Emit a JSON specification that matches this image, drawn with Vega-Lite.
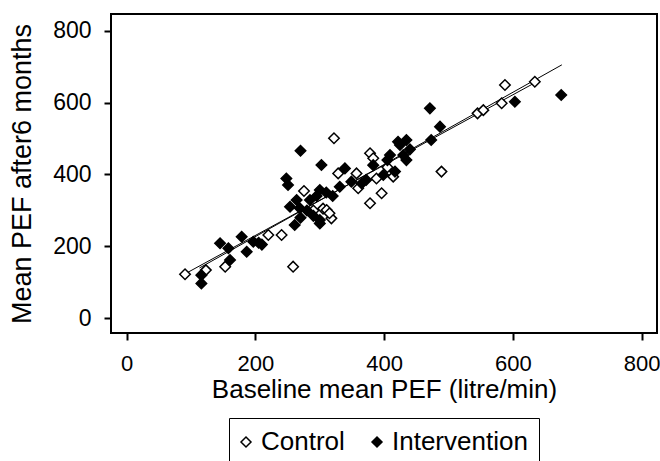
{
  "$schema": "https://vega.github.io/schema/vega-lite/v6.json",
  "width": 546,
  "height": 319,
  "autosize": {"type": "none"},
  "padding": {"left": 111, "top": 14, "right": 3, "bottom": 128},
  "background": "white",
  "config": {
    "view": {"stroke": "black", "strokeWidth": 2},
    "font": "Liberation Sans",
    "axis": {
      "domain": false,
      "grid": false,
      "tickColor": "black",
      "tickWidth": 2,
      "tickSize": 7,
      "labelFont": "Liberation Sans",
      "labelFontSize": 22,
      "labelColor": "black",
      "titleFont": "Liberation Sans",
      "titleFontSize": 26,
      "titleFontWeight": "normal",
      "titleColor": "black"
    }
  },
  "datasets": {
    "patients": [
      {"baseline": 90.6, "followup": 122.4, "group": "Control"},
      {"baseline": 123, "followup": 134, "group": "Control"},
      {"baseline": 153, "followup": 143.6, "group": "Control"},
      {"baseline": 220, "followup": 231.7, "group": "Control"},
      {"baseline": 240.6, "followup": 231.7, "group": "Control"},
      {"baseline": 258.5, "followup": 143.6, "group": "Control"},
      {"baseline": 275.4, "followup": 354, "group": "Control"},
      {"baseline": 290, "followup": 300, "group": "Control"},
      {"baseline": 305, "followup": 305, "group": "Control"},
      {"baseline": 310.6, "followup": 301, "group": "Control"},
      {"baseline": 318, "followup": 278, "group": "Control"},
      {"baseline": 315, "followup": 292, "group": "Control"},
      {"baseline": 322, "followup": 500.7, "group": "Control"},
      {"baseline": 328.5, "followup": 403, "group": "Control"},
      {"baseline": 357, "followup": 403, "group": "Control"},
      {"baseline": 359.6, "followup": 361.6, "group": "Control"},
      {"baseline": 378, "followup": 459, "group": "Control"},
      {"baseline": 383, "followup": 445, "group": "Control"},
      {"baseline": 388, "followup": 389, "group": "Control"},
      {"baseline": 396, "followup": 348, "group": "Control"},
      {"baseline": 378, "followup": 320, "group": "Control"},
      {"baseline": 414, "followup": 394, "group": "Control"},
      {"baseline": 405, "followup": 420, "group": "Control"},
      {"baseline": 489, "followup": 408, "group": "Control"},
      {"baseline": 545, "followup": 570, "group": "Control"},
      {"baseline": 554, "followup": 579, "group": "Control"},
      {"baseline": 582.5, "followup": 598, "group": "Control"},
      {"baseline": 587.6, "followup": 649, "group": "Control"},
      {"baseline": 634, "followup": 658, "group": "Control"},
      {"baseline": 116, "followup": 120, "group": "Intervention"},
      {"baseline": 116, "followup": 97, "group": "Intervention"},
      {"baseline": 145, "followup": 208.6, "group": "Intervention"},
      {"baseline": 158, "followup": 195, "group": "Intervention"},
      {"baseline": 160.5, "followup": 162, "group": "Intervention"},
      {"baseline": 178.6, "followup": 227, "group": "Intervention"},
      {"baseline": 186.4, "followup": 185, "group": "Intervention"},
      {"baseline": 196.7, "followup": 213, "group": "Intervention"},
      {"baseline": 205, "followup": 210, "group": "Intervention"},
      {"baseline": 210, "followup": 205, "group": "Intervention"},
      {"baseline": 261, "followup": 259.5, "group": "Intervention"},
      {"baseline": 300, "followup": 264, "group": "Intervention"},
      {"baseline": 270, "followup": 466, "group": "Intervention"},
      {"baseline": 302.5, "followup": 426.4, "group": "Intervention"},
      {"baseline": 248, "followup": 389, "group": "Intervention"},
      {"baseline": 250.6, "followup": 370.8, "group": "Intervention"},
      {"baseline": 339, "followup": 417, "group": "Intervention"},
      {"baseline": 349, "followup": 380, "group": "Intervention"},
      {"baseline": 383, "followup": 426, "group": "Intervention"},
      {"baseline": 398.6, "followup": 398.6, "group": "Intervention"},
      {"baseline": 424.5, "followup": 482, "group": "Intervention"},
      {"baseline": 429.7, "followup": 454, "group": "Intervention"},
      {"baseline": 416.8, "followup": 408, "group": "Intervention"},
      {"baseline": 300, "followup": 357, "group": "Intervention"},
      {"baseline": 264, "followup": 329, "group": "Intervention"},
      {"baseline": 284.7, "followup": 329, "group": "Intervention"},
      {"baseline": 300, "followup": 273.4, "group": "Intervention"},
      {"baseline": 269, "followup": 306, "group": "Intervention"},
      {"baseline": 253.7, "followup": 310.4, "group": "Intervention"},
      {"baseline": 331, "followup": 366, "group": "Intervention"},
      {"baseline": 280, "followup": 300, "group": "Intervention"},
      {"baseline": 290, "followup": 285, "group": "Intervention"},
      {"baseline": 270, "followup": 280, "group": "Intervention"},
      {"baseline": 295, "followup": 340, "group": "Intervention"},
      {"baseline": 310, "followup": 350, "group": "Intervention"},
      {"baseline": 320, "followup": 340, "group": "Intervention"},
      {"baseline": 365, "followup": 375, "group": "Intervention"},
      {"baseline": 372, "followup": 385, "group": "Intervention"},
      {"baseline": 405, "followup": 440, "group": "Intervention"},
      {"baseline": 409, "followup": 454, "group": "Intervention"},
      {"baseline": 421.5, "followup": 491, "group": "Intervention"},
      {"baseline": 434.5, "followup": 496, "group": "Intervention"},
      {"baseline": 434.5, "followup": 440, "group": "Intervention"},
      {"baseline": 440, "followup": 470, "group": "Intervention"},
      {"baseline": 471, "followup": 584, "group": "Intervention"},
      {"baseline": 473, "followup": 496, "group": "Intervention"},
      {"baseline": 486.7, "followup": 533, "group": "Intervention"},
      {"baseline": 603, "followup": 602.5, "group": "Intervention"},
      {"baseline": 675, "followup": 621, "group": "Intervention"}
    ],
    "fits": [
      {"baseline": 90, "followup": 123, "group": "Control"},
      {"baseline": 634, "followup": 655, "group": "Control"},
      {"baseline": 113, "followup": 140, "group": "Intervention"},
      {"baseline": 676, "followup": 705, "group": "Intervention"}
    ]
  },
  "layer": [
    {
      "data": {"name": "fits"},
      "mark": {"type": "line", "color": "black", "strokeWidth": 1},
      "encoding": {
        "x": {"field": "baseline", "type": "quantitative", "scale": {"domain": [-24.4, 823.8], "nice": false, "zero": false}},
        "y": {"field": "followup", "type": "quantitative", "scale": {"domain": [-40.9, 846.4], "nice": false, "zero": false}},
        "detail": {"field": "group"}
      }
    },
    {
      "data": {"name": "patients"},
      "mark": {"type": "point", "shape": "diamond", "filled": true, "stroke": "black", "strokeWidth": 1.5, "size": 110, "opacity": 1},
      "encoding": {
        "x": {
          "field": "baseline",
          "type": "quantitative",
          "scale": {"domain": [-24.4, 823.8], "nice": false, "zero": false},
          "axis": {"values": [0, 200, 400, 600, 800], "labelPadding": 13, "title": "Baseline mean PEF (litre/min)", "titlePadding": 2}
        },
        "y": {
          "field": "followup",
          "type": "quantitative",
          "scale": {"domain": [-40.9, 846.4], "nice": false, "zero": false},
          "axis": {"values": [0, 200, 400, 600, 800], "labelPadding": 13, "labelFontSize": 23, "title": "Mean PEF after6 months", "titleFontSize": 27, "titlePadding": 16}
        },
        "fill": {
          "field": "group",
          "type": "nominal",
          "scale": {"domain": ["Control", "Intervention"], "range": ["white", "black"]},
          "legend": {
            "title": null,
            "orient": "none",
            "legendX": 118,
            "legendY": 404,
            "direction": "horizontal",
            "symbolType": "diamond",
            "symbolSize": 100,
            "symbolStrokeColor": "black",
            "symbolStrokeWidth": 1.5,
            "symbolOffset": -7,
            "labelFont": "Liberation Sans",
            "labelFontSize": 26,
            "labelColor": "black",
            "labelOffset": 2,
            "columnPadding": 24,
            "padding": 11,
            "strokeColor": "black",
            "fillColor": "white",
            "encode": {"legend": {"update": {"strokeWidth": {"value": 2}}}}
          }
        }
      }
    }
  ]
}
